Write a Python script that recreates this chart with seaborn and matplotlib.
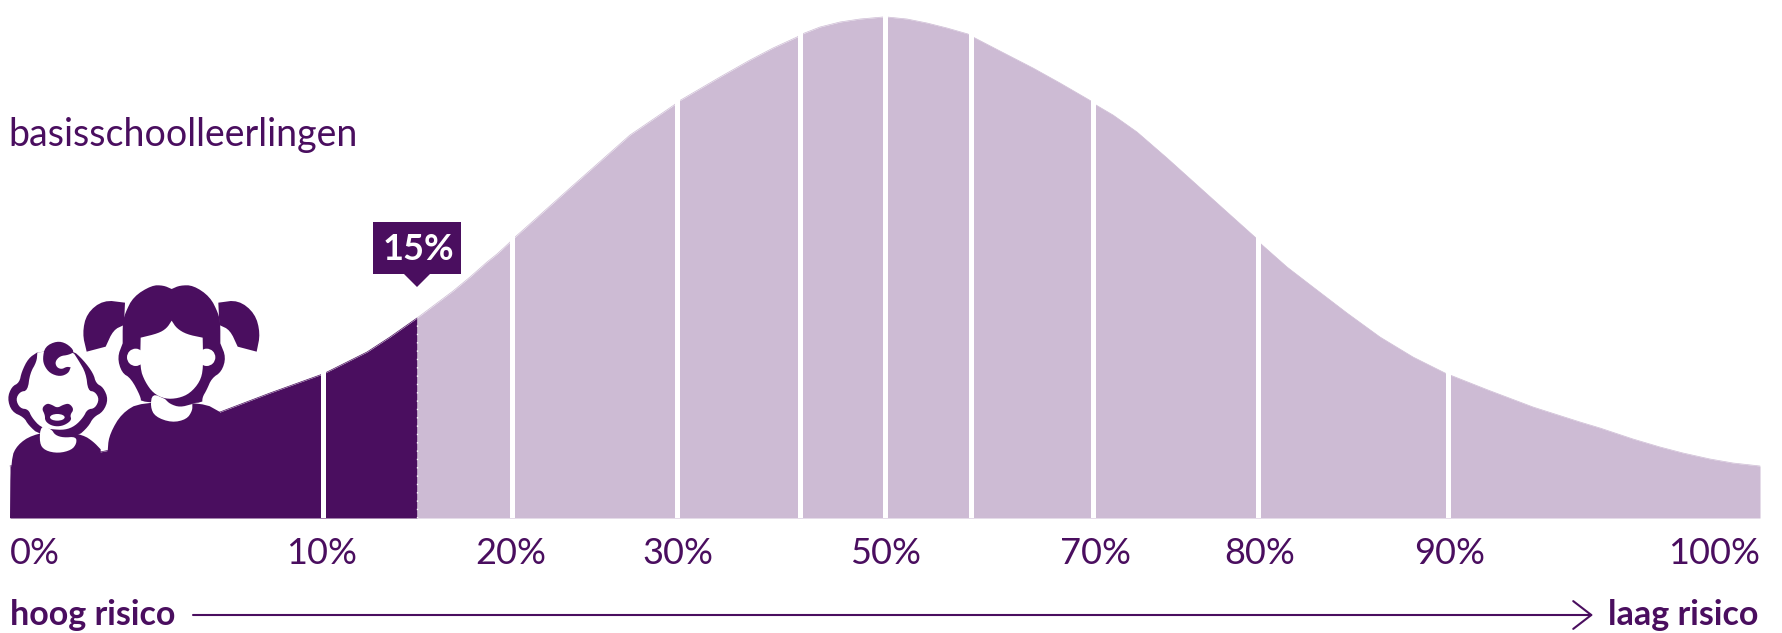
import numpy as np
import pandas as pd
import seaborn as sns
import matplotlib.pyplot as plt
from matplotlib.patches import Polygon, Circle, Ellipse

DARK = "#4a0e5f"
LIGHT = "#cdbbd4"

# curve: position along the axis, height above the base
curve_x = [10, 60, 110, 160, 220, 270, 320, 325, 347, 367, 390, 417, 437, 453, 470, 487, 497, 509, 514, 570, 630,
           674, 679, 720, 750, 773, 797, 802, 820, 840, 860, 883, 887, 907, 927, 947, 968, 973, 1000, 1033, 1060,
           1091, 1096, 1113, 1137, 1167, 1197, 1227, 1256, 1261, 1287, 1313, 1347, 1380, 1413, 1445, 1450,
           1488, 1533, 1580, 1600, 1633, 1660, 1683, 1710, 1733, 1760]
curve_h = [52, 58, 68, 83, 106, 125, 143, 145, 156, 166, 181, 200, 215, 227, 241, 256, 264, 275, 280, 330, 383,
           413, 417, 441, 458, 470, 481, 484, 491, 496, 499, 501, 501, 499, 495, 490, 484, 481, 467, 450, 435,
           417, 413, 403, 386, 360, 333, 306, 280, 274, 251, 231, 205, 181, 161, 145, 143,
           128, 111, 96, 90, 79, 71, 65, 59, 55, 52]

divider_x = [322.5, 511.5, 676.5, 799.5, 885, 970.5, 1093, 1258, 1447.5]
marker_x = 417
marker_label = "15%"

tick_x = [10, 322, 511, 678, 886, 1095, 1260, 1450, 1760]
tick_labels = ["0%", "10%", "20%", "30%", "50%", "70%", "80%", "90%", "100%"]

title = "basisschoolleerlingen"
left_label = "hoog risico"
right_label = "laag risico"

sns.set_theme(style="white")
plt.rcParams["font.family"] = ["Lato", "DejaVu Sans"]

df = pd.DataFrame({"x": curve_x, "h": curve_h})
risk = df[df.x <= marker_x]
rest = df[df.x >= marker_x]

fig = plt.figure(figsize=(17.82, 6.33), dpi=100)
ax = fig.add_axes([0, 115 / 633, 1, 518 / 633])

sns.lineplot(data=risk, x="x", y="h", color=DARK, lw=0.5, ax=ax)
sns.lineplot(data=rest, x="x", y="h", color=LIGHT, lw=0.5, ax=ax)
ax.fill_between(risk.x, 0, risk.h, color=DARK, lw=0)
ax.fill_between(rest.x, 0, rest.h, color=LIGHT, lw=0)

# white gaps at the deciles and the dotted line at the 15% mark
ax.vlines(divider_x, 0, 510, color="white", lw=3.6, zorder=3)
ax.vlines(marker_x, 0, 200, color="white", lw=1, linestyles=(0, (1, 5)), zorder=3)

ax.set_xlim(0, 1782)
ax.set_ylim(0, 518)
ax.set_xlabel("")
ax.set_ylabel("")
ax.set_yticks([])
ax.set_xticks(tick_x)
ax.set_xticklabels(tick_labels, color=DARK, fontsize=26)
ax.tick_params(axis="x", length=0, pad=14)
ax.get_xticklabels()[0].set_ha("left")
ax.get_xticklabels()[-1].set_ha("right")
sns.despine(ax=ax, left=True, bottom=True)

ax.text(8, 372, title, color=DARK, fontsize=27, va="baseline")
ax.text(10, -107, left_label, color=DARK, fontsize=24.5, fontweight="bold", va="baseline", clip_on=False)
ax.text(1758, -107, right_label, color=DARK, fontsize=24.5, fontweight="bold", va="baseline", ha="right", clip_on=False)
ax.annotate("", xy=(1593, -97), xytext=(193, -97), annotation_clip=False,
            arrowprops=dict(arrowstyle="->,head_length=0.65,head_width=0.5", color=DARK, lw=1.5,
                            shrinkA=0, shrinkB=0, mutation_scale=20))

# callout above the 15% mark
ax.add_patch(Polygon([(373, 296), (461, 296), (461, 244), (430, 244), (marker_x, 231), (404, 244), (373, 244)],
                     color=DARK, lw=0, zorder=5))
ax.text(418, 269, marker_label, color="white", fontsize=26, fontweight="bold", ha="center", va="center", zorder=6)


# icons were traced in 3x crops of the picture, o is the corner of the crop
def conv(pts, o):
    pts = np.array(pts, dtype=float)
    return np.column_stack([o[0] + pts[:, 0] / 3, 518 - (o[1] + pts[:, 1] / 3)])


def smooth(pts, n=2):
    for _ in range(n):
        nxt = np.roll(pts, -1, axis=0)
        pts = np.column_stack([0.75 * pts + 0.25 * nxt, 0.25 * pts + 0.75 * nxt]).reshape(-1, 2)
    return pts


def shape(pts, o, color=DARK, z=7):
    ax.add_patch(Polygon(smooth(conv(pts, o)), color=color, lw=0, zorder=z))


def dot(x, y, r, o, color, z):
    ax.add_patch(Circle(conv([(x, y)], o)[0], r / 3, color=color, lw=0, zorder=z))


# a point written three times stays a sharp corner after smoothing
def sharp(x, y):
    return [(x, y)] * 3


BABY = (0, 330)
GIRL = (75, 280)

# baby
shape(sharp(30, 564) + [(33, 385), (52, 345), (95, 315), (175, 300), (250, 315), (280, 335)]
      + sharp(302, 358) + sharp(305, 564), BABY, z=7)
shape(sharp(112, 67) + [(85, 85), (65, 125), (58, 158), (35, 170), (22, 205), (35, 245), (72, 262), (85, 285),
                        (118, 315), (230, 322), (265, 290), (280, 262), (310, 245), (325, 208), (310, 172),
                        (288, 160), (280, 130), (250, 90), (215, 58)], BABY, z=8)
shape(sharp(112, 67) + [(110, 95), (90, 130), (83, 182), (60, 185), (47, 208), (60, 235), (85, 238), (95, 262),
                        (122, 292), (155, 298), (195, 300), (225, 288), (250, 262), (262, 238), (285, 235),
                        (298, 208), (285, 185), (264, 182), (258, 130), (235, 90), (215, 60)], BABY, "white", 9)
shape([(122, 285), (118, 340), (135, 362), (175, 370), (215, 360), (230, 340), (228, 320), (190, 323), (165, 315),
       (155, 298)], BABY, "white", 9)
shape([(128, 85), (135, 50), (170, 33), (200, 40), (225, 65), (205, 75), (180, 78), (165, 95), (170, 112),
       (185, 118), (200, 110)] + sharp(212, 112) + [(205, 130), (180, 140), (150, 130), (133, 108)], BABY, z=10)
shape([(125, 235), (140, 220), (155, 224), (172, 234), (190, 224), (208, 220), (222, 238), (210, 255), (215, 270),
       (195, 285), (172, 290), (150, 285), (135, 272), (135, 255)], BABY, z=10)
ax.add_patch(Ellipse(conv([(172, 262)], BABY)[0], 44 / 3, 20 / 3, color="white", lw=0, zorder=11))

# girl
shape(sharp(95, 714) + [(97, 505), (105, 460), (140, 400), (197, 366), (385, 368)] + sharp(435, 396)
      + sharp(440, 714), GIRL, z=7)
shape(sharp(35, 215) + [(22, 160), (35, 100), (85, 60)] + sharp(150, 68) + sharp(147, 135)
      + [(115, 150)] + sharp(92, 200), GIRL, z=8)
shape(sharp(545, 215) + [(556, 160), (540, 100), (490, 60)] + sharp(430, 68) + sharp(433, 135)
      + [(465, 150)] + sharp(488, 200), GIRL, z=8)
shape(sharp(143, 190) + [(143, 130), (150, 100), (175, 50), (230, 16), (265, 16)] + sharp(290, 27)
      + [(315, 16), (355, 16), (405, 50), (430, 100), (436, 130)] + sharp(436, 190)
      + [(453, 232), (440, 275), (410, 295), (395, 330), (382, 352), (382, 372), (198, 368), (197, 350), (168, 295),
         (140, 278), (127, 232)], GIRL, z=9)
shape(sharp(197, 173) + [(250, 160), (275, 145)] + sharp(290, 122) + [(305, 145), (335, 163)] + sharp(383, 173)
      + [(385, 265), (375, 305), (345, 340), (310, 355), (270, 357), (235, 340), (210, 305), (195, 265)], GIRL, "white", 10)
dot(182, 232, 26, GIRL, "white", 11)
dot(395, 232, 26, GIRL, "white", 11)
shape([(232, 340), (226, 380), (240, 410), (290, 428), (335, 418), (352, 392)] + sharp(352, 372)
      + [(315, 382), (285, 372)] + sharp(270, 357), GIRL, "white", 11)

fig.savefig("out.png", dpi=100)
